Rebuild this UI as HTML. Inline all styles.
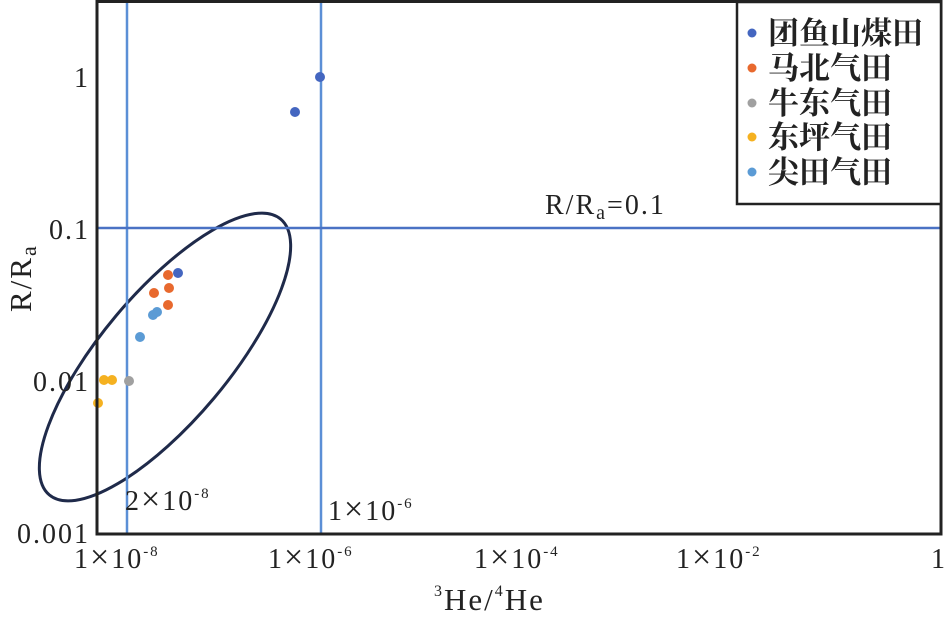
<!DOCTYPE html>
<html><head><meta charset="utf-8"><style>
body{margin:0;background:#fff}
svg text{font-family:"Liberation Serif","Noto Serif CJK SC",serif;fill:#222}
</style></head><body>
<svg width="946" height="616" xmlns="http://www.w3.org/2000/svg">
<g id="ticks" stroke="#222" stroke-width="2"></g>
<ellipse cx="165" cy="357" rx="180" ry="64" transform="rotate(-50 165 357)" fill="none" stroke="#1f2a4a" stroke-width="3"/>
<g stroke="#5b8fd6" stroke-width="2.5">
<line x1="127" y1="0" x2="127" y2="534"/>
<line x1="321" y1="0" x2="321" y2="534"/>
<line x1="97" y1="228" x2="941" y2="228" stroke="#4a72c4"/>
</g>
<g>
<circle cx="320" cy="77" r="5" fill="#4466c0"/><circle cx="295" cy="112" r="5" fill="#4466c0"/><circle cx="178" cy="273" r="5" fill="#4466c0"/>
<circle cx="168" cy="275" r="5" fill="#e8692e"/><circle cx="154" cy="293" r="5" fill="#e8692e"/><circle cx="169" cy="288" r="5" fill="#e8692e"/><circle cx="168" cy="305" r="5" fill="#e8692e"/>
<circle cx="129" cy="381" r="5" fill="#a0a0a0"/>
<circle cx="104" cy="380" r="5" fill="#f5b120"/><circle cx="112" cy="380" r="5" fill="#f5b120"/><circle cx="98" cy="403" r="5" fill="#f5b120"/>
<circle cx="140" cy="337" r="5" fill="#5b9bd5"/><circle cx="153" cy="315" r="5" fill="#5b9bd5"/><circle cx="157" cy="312" r="5" fill="#5b9bd5"/>
</g>
<rect x="97" y="1.5" width="844" height="532.5" fill="none" stroke="#222" stroke-width="3"/>
<rect x="737" y="2" width="204" height="202" fill="#fff" stroke="#222" stroke-width="2.5"/>
<g font-size="31" font-weight="bold">
<circle cx="752" cy="33" r="4.5" fill="#4466c0"/><text x="768" y="44" style="font-family:'Noto Serif CJK SC',serif">团鱼山煤田</text>
<circle cx="752" cy="68" r="4.5" fill="#e8692e"/><text x="768" y="79" style="font-family:'Noto Serif CJK SC',serif">马北气田</text>
<circle cx="752" cy="103" r="4.5" fill="#a0a0a0"/><text x="768" y="114" style="font-family:'Noto Serif CJK SC',serif">牛东气田</text>
<circle cx="752" cy="137" r="4.5" fill="#f5b120"/><text x="768" y="148" style="font-family:'Noto Serif CJK SC',serif">东坪气田</text>
<circle cx="752" cy="172" r="4.5" fill="#5b9bd5"/><text x="768" y="183" style="font-family:'Noto Serif CJK SC',serif">尖田气田</text>
</g>
<g font-size="28" letter-spacing="2">
<text x="90" y="87" text-anchor="end">1</text>
<text x="90" y="239" text-anchor="end">0.1</text>
<text x="90" y="391" text-anchor="end">0.01</text>
<text x="90" y="543" text-anchor="end">0.001</text>
<text x="545" y="214">R/R<tspan font-size="20" dy="5">a</tspan><tspan dy="-5">=0.1</tspan></text>
<text x="125" y="510">2<tspan font-size="34">×</tspan>10<tspan font-size="15" dy="-12">-8</tspan></text>
<text x="328" y="520">1<tspan font-size="34">×</tspan>10<tspan font-size="15" dy="-12">-6</tspan></text>
<text x="74" y="568">1<tspan font-size="34">×</tspan>10<tspan font-size="15" dy="-12">-8</tspan></text>
<text x="268" y="568">1<tspan font-size="34">×</tspan>10<tspan font-size="15" dy="-12">-6</tspan></text>
<text x="474" y="568">1<tspan font-size="34">×</tspan>10<tspan font-size="15" dy="-12">-4</tspan></text>
<text x="676" y="568">1<tspan font-size="34">×</tspan>10<tspan font-size="15" dy="-12">-2</tspan></text>
<text x="931" y="568">1</text>
</g>
<g font-size="31" letter-spacing="2">
<text x="434" y="610"><tspan font-size="16" dy="-14">3</tspan><tspan dy="14">He/</tspan><tspan font-size="16" dy="-14">4</tspan><tspan dy="14">He</tspan></text>
<text transform="translate(31 312) rotate(-90)">R/R<tspan font-size="22" dy="5">a</tspan></text>
</g>
<script>
var g=document.getElementById('ticks'),s='';
var L=[2,3,4,5,6,7,8,9].map(function(v){return Math.log10(v)});
for(var d=0;d<8;d++){var x0=97+d*105.5;s+='<line x1="'+x0+'" y1="534" x2="'+x0+'" y2="525"/>';
L.forEach(function(l){var x=x0+l*105.5;s+='<line x1="'+x+'" y1="534" x2="'+x+'" y2="529"/>';});}
for(var d=-1;d<3;d++){var y0=533-d*152.5;if(d>=0)s+='<line x1="97" y1="'+y0+'" x2="106" y2="'+y0+'"/>';
L.forEach(function(l){var y=y0-l*152.5;if(y>2&&y<534)s+='<line x1="97" y1="'+y+'" x2="103" y2="'+y+'"/>';});}
g.innerHTML=s;
</script>
</svg>
</body></html>
